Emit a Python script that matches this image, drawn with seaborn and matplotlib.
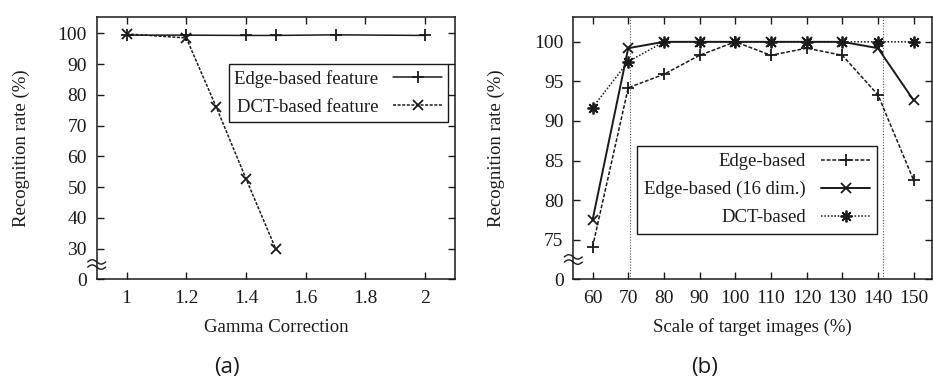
import numpy as np
import pandas as pd
import matplotlib
matplotlib.use("Agg")
import matplotlib.pyplot as plt
import seaborn as sns

# ---------------- data ----------------
gamma_edge_x = [1.0, 1.2, 1.4, 1.5, 1.7, 2.0]
gamma_edge_y = [99.4, 99.4, 99.3, 99.3, 99.5, 99.3]
gamma_dct_x = [1.0, 1.2, 1.3, 1.4, 1.5]
gamma_dct_y = [99.8, 98.5, 76.1, 52.7, 29.8]

scale_x = [60, 70, 80, 90, 100, 110, 120, 130, 140, 150]
scale_edge = [74.1, 94.2, 95.9, 98.3, 100.0, 98.3, 99.2, 98.3, 93.3, 82.5]
scale_edge16 = [77.5, 99.2, 100.0, 100.0, 100.0, 100.0, 100.0, 100.0, 99.2, 92.6]
scale_dct = [91.7, 97.5, 100.0, 100.0, 100.0, 100.0, 100.0, 100.0, 100.0, 100.0]
scale_vlines = [70.5, 141.3]

a_xticks = [1, 1.2, 1.4, 1.6, 1.8, 2]
a_xticklabels = ["1", "1.2", "1.4", "1.6", "1.8", "2"]
a_yticks = [20, 30, 40, 50, 60, 70, 80, 90, 100]      # 20 is the broken-axis "0"
a_yticklabels = ["0", "30", "40", "50", "60", "70", "80", "90", "100"]
b_xticks = [60, 70, 80, 90, 100, 110, 120, 130, 140, 150]
b_yticks = [70, 75, 80, 85, 90, 95, 100]              # 70 is the broken-axis "0"
b_yticklabels = ["0", "75", "80", "85", "90", "95", "100"]

# ---------------- style ----------------
sns.set_theme(style="ticks")
plt.rcParams["font.family"] = ["Liberation Serif", "DejaVu Serif"]
plt.rcParams["font.size"] = 13.5
plt.rcParams["text.color"] = "#1a1a1a"
plt.rcParams["axes.labelcolor"] = "#1a1a1a"
plt.rcParams["xtick.color"] = "#1a1a1a"
plt.rcParams["ytick.color"] = "#1a1a1a"

W, H = 933, 382
FS = 13.5
fig = plt.figure(figsize=(W / 100, H / 100), dpi=100)
ax1 = fig.add_axes([96.7 / W, 1 - 279.3 / H, (455 - 96.7) / W, (279.3 - 17.3) / H])
ax2 = fig.add_axes([573.3 / W, 1 - 279.3 / H, (931.5 - 573.3) / W, (279.3 - 17.3) / H])

LC = "#1a1a1a"
LW = 1.1
mk = dict(markeredgecolor=LC, markerfacecolor=LC, markeredgewidth=1.3)

# panel (a)
sns.lineplot(x=gamma_edge_x, y=gamma_edge_y, ax=ax1, color=LC, lw=LW, marker="+",
             markersize=8, label="Edge-based feature", **mk)
sns.lineplot(x=gamma_dct_x, y=gamma_dct_y, ax=ax1, color=LC, lw=LW, marker="x",
             markersize=7, linestyle=(0, (2, 1)), label="DCT-based feature", **mk)

# panel (b)
for v in scale_vlines:
    ax2.axvline(v, color="#555555", lw=0.8, linestyle=(0, (1, 1.5)))
sns.lineplot(x=scale_x, y=scale_edge, ax=ax2, color=LC, lw=LW, marker="+",
             markersize=8, linestyle=(0, (2.5, 1.2)), label="Edge-based", **mk)
sns.lineplot(x=scale_x, y=scale_edge16, ax=ax2, color=LC, lw=1.4, marker="x",
             markersize=7.5, label="Edge-based (16 dim.)", **mk)
sns.lineplot(x=scale_x, y=scale_dct, ax=ax2, color=LC, lw=LW, marker=(8, 2, 0),
             markersize=8.5, linestyle=(0, (1, 1.2)), label="DCT-based", **mk)

for ax in (ax1, ax2):
    for s in ax.spines.values():
        s.set_visible(True)
        s.set_linewidth(1.1)
        s.set_color(LC)
    ax.tick_params(direction="in", top=True, right=True, length=5, width=1.0,
                   labelsize=14)
    ax.tick_params(axis="x", pad=8)
    ax.tick_params(axis="y", pad=7)
    ax.set_ylabel("Recognition rate (%)", fontsize=FS)

ax1.set_xlim(0.9, 2.1)
ax1.set_ylim(20, 105.2)
ax1.set_xticks(a_xticks)
ax1.set_xticklabels(a_xticklabels)
ax1.set_yticks(a_yticks)
ax1.set_yticklabels(a_yticklabels)
ax1.set_xlabel("Gamma Correction", fontsize=FS, labelpad=8)

ax2.set_xlim(54.6, 155)
ax2.set_ylim(70, 103.1)
ax2.set_xticks(b_xticks)
ax2.set_xticklabels([str(t) for t in b_xticks])
ax2.set_yticks(b_yticks)
ax2.set_yticklabels(b_yticklabels)
ax2.set_xlabel("Scale of target images (%)", fontsize=FS, labelpad=8)

ax1.yaxis.set_label_coords(-0.185, 0.5)
ax2.yaxis.set_label_coords(-0.19, 0.5)

# legends
leg1 = ax1.legend(loc="upper right", bbox_to_anchor=(0.98, 0.82), markerfirst=False,
                  fancybox=False, edgecolor=LC, framealpha=1, fontsize=FS,
                  handlelength=2.6, labelspacing=0.58, borderpad=0.3,
                  handletextpad=0.8, borderaxespad=0)
leg1.get_frame().set_linewidth(1.0)

leg2 = ax2.legend(loc="upper right", bbox_to_anchor=(0.849, 0.51), markerfirst=False,
                  fancybox=False, edgecolor=LC, framealpha=1, fontsize=FS,
                  handlelength=2.6, labelspacing=0.58, borderpad=0.4,
                  handletextpad=0.8, borderaxespad=0)
leg2.get_frame().set_linewidth(1.0)

# right-align the labels of legend (b)
texts = leg2.get_texts()
fig.canvas.draw()
renderer = fig.canvas.get_renderer()
e0 = [t.get_window_extent(renderer) for t in texts]
target = max(e.x1 for e in e0)
for t, e in zip(texts, e0):
    t.set_position((target - e.x1, 0))
fig.canvas.draw()
e1 = [t.get_window_extent(renderer) for t in texts]
for t, a, b in zip(texts, e0, e1):
    d = target - a.x1
    moved = b.x1 - a.x1
    if d > 0.5 and moved > 0.5:
        t.set_position((d * d / moved, 0))

# axis-break marks
def brk(ax, ycenter_px_from_bottom, width_px=9):
    bb = ax.get_position()
    axw, axh = bb.width * W, bb.height * H
    t = np.linspace(0, 1, 40)
    for dy in (-2.6, 2.6):
        xs = (-width_px + 2 * width_px * t) / axw
        ys = (ycenter_px_from_bottom + dy + 2.2 * np.sin(2 * np.pi * t)) / axh
        ax.plot(xs, ys, transform=ax.transAxes, color=LC, lw=1.0, clip_on=False,
                zorder=5)

brk(ax1, 279.3 - 264.5)
brk(ax2, 279.3 - 259.5)

# captions
fig.text(227 / W, 1 - 367 / H, "(a)", ha="center", va="center", fontsize=16,
         family=["Open Sans", "DejaVu Sans"], color="#1a1a1a")
fig.text(705 / W, 1 - 367 / H, "(b)", ha="center", va="center", fontsize=16,
         family=["Open Sans", "DejaVu Sans"], color="#1a1a1a")

fig.savefig("out.png", dpi=100)
